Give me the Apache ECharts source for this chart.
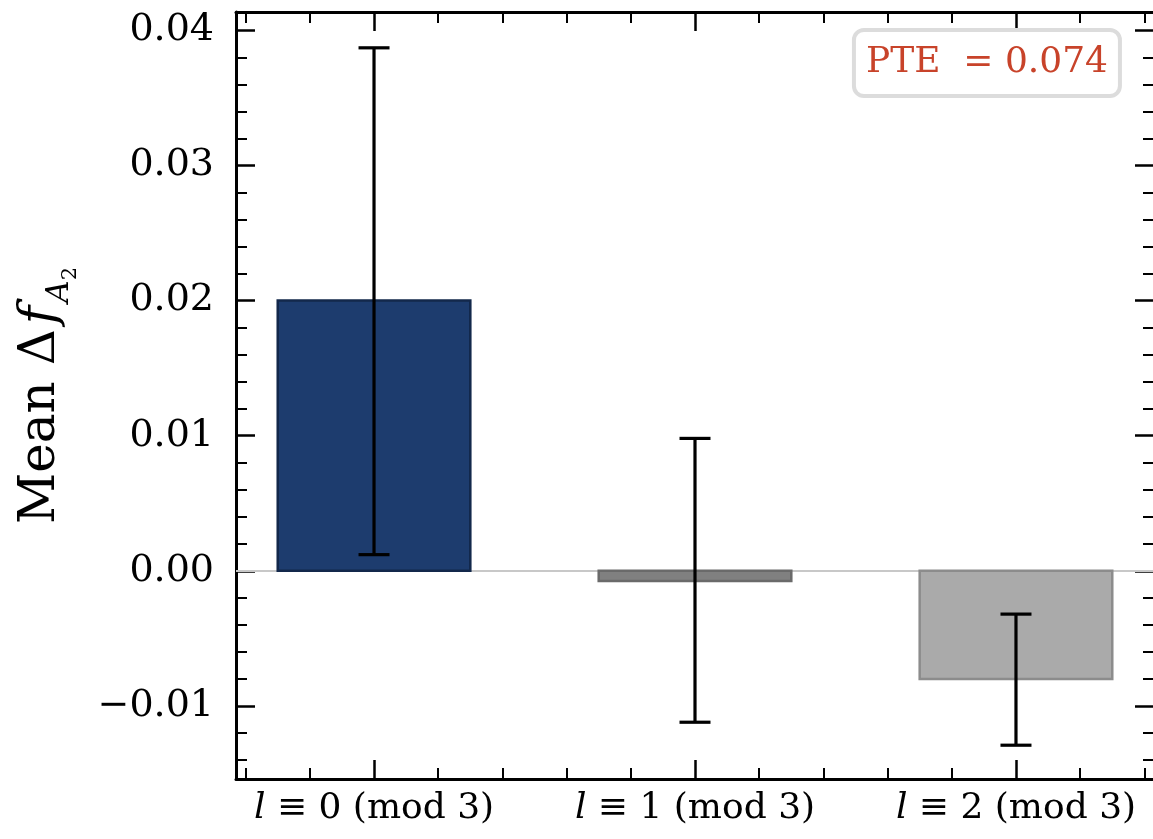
<!DOCTYPE html>
<html>
<head>
<meta charset="utf-8">
<script src="https://cdn.jsdelivr.net/npm/echarts@6/dist/echarts.min.js"></script>
<style>html,body{margin:0;padding:0;background:#fff}#c{width:1153px;height:839px}</style>
</head>
<body>
<div id="c"></div>
<script>
// ---- data ----
var categories = ['0', '1', '2'];
var positions = [0, 1, 2];
var means = [0.0200, -0.00075, -0.0080];
var errLow = [0.0188, 0.01045, 0.0049];
var errHigh = [0.0187, 0.01055, 0.0048];
var yMajorTicks = [-0.01, 0.00, 0.01, 0.02, 0.03, 0.04];
var yMinorTicks = [-0.014, -0.012, -0.008, -0.006, -0.004, -0.002, 0.002, 0.004, 0.006, 0.008,
  0.012, 0.014, 0.016, 0.018, 0.022, 0.024, 0.026, 0.028, 0.032, 0.034, 0.036, 0.038];
var xMajorTicks = [0, 1, 2];
var xMinorTicks = [-0.4, -0.2, 0.2, 0.4, 0.6, 0.8, 1.2, 1.4, 1.6, 1.8, 2.2, 2.4];
var pteText = 'PTE  = 0.074';

// ---- styles ----
var barColors = ['#1d3c6e', '#808080', '#aaaaaa'];
var barEdges = ['#13284b', '#6a6a6a', '#8c8c8c'];
var BAR_W = 0.6;
var X_MIN = -0.43, X_MAX = 2.43;
var Y_MIN = -0.01540, Y_MAX = 0.04135;
var serif = '"DejaVu Serif", "Liberation Serif", serif';

function fmtY(v) {
  var s = Math.abs(v).toFixed(2);
  return (v < -1e-9 ? '\u2212' : '') + s;
}

function mkY(pos, ticks, len, w, showLine, withLabel) {
  var a = {
    type: 'value', position: pos, min: Y_MIN, max: Y_MAX,
    splitLine: { show: false },
    axisLine: { show: showLine, onZero: false, lineStyle: { color: '#000', width: 3 } },
    axisTick: { show: true, inside: true, length: len, customValues: ticks, lineStyle: { color: '#000', width: w } },
    axisLabel: { show: false }
  };
  if (withLabel) {
    a.axisLabel = {
      show: true, customValues: ticks, formatter: fmtY, margin: 22,
      fontFamily: serif, fontSize: 38, color: '#000'
    };
    a.name = '{n|Mean \u0394}{f|f}{a|A}{s|2}';
    a.nameLocation = 'middle';
    a.nameGap = 170;
    a.nameRotate = 90;
    a.nameTextStyle = {
      fontFamily: serif, fontSize: 50,
      rich: {
        n: { fontFamily: serif, fontSize: 50, color: '#000', lineHeight: 62, verticalAlign: 'bottom' },
        f: { fontFamily: serif, fontStyle: 'italic', fontSize: 50, color: '#000', lineHeight: 62, verticalAlign: 'bottom', padding: [0, 3, 0, 5] },
        a: { fontFamily: serif, fontStyle: 'italic', fontSize: 31, color: '#000', lineHeight: 62, verticalAlign: 'bottom', padding: [0, 0, -9, 0] },
        s: { fontFamily: serif, fontSize: 21, color: '#000', lineHeight: 62, verticalAlign: 'bottom', padding: [0, 0, -15, 0] }
      }
    };
  }
  return a;
}

function mkX(pos, ticks, len, w, showLine, withLabel) {
  var a = {
    type: 'value', position: pos, min: X_MIN, max: X_MAX,
    splitLine: { show: false },
    axisLine: { show: showLine, onZero: false, lineStyle: { color: '#000', width: 3 } },
    axisTick: { show: true, inside: true, length: len, customValues: ticks, lineStyle: { color: '#000', width: w } },
    axisLabel: { show: false }
  };
  if (withLabel) {
    a.axisLabel = {
      show: true, customValues: ticks, margin: 12,
      formatter: function (v) {
        var i = positions.indexOf(Math.round(v));
        return '{i|l}{t| \u2261 ' + categories[i] + ' (mod 3)}';
      },
      rich: {
        i: { fontFamily: serif, fontStyle: 'italic', fontSize: 36, color: '#000' },
        t: { fontFamily: serif, fontSize: 36, color: '#000' }
      }
    };
  }
  return a;
}

var barData = positions.map(function (p, i) { return [p, means[i], i]; });
var errData = positions.map(function (p, i) { return [p, means[i] - errLow[i], means[i] + errHigh[i]]; });

var chart = echarts.init(document.getElementById('c'), null, { renderer: 'canvas' });
chart.setOption({
  backgroundColor: '#fff',
  animation: false,
  grid: { left: 236, top: 12, width: 918, height: 767, containLabel: false, outerBoundsMode: 'none' },
  title: {
    text: pteText,
    right: 33, top: 30,
    padding: [11, 12, 11, 12],
    backgroundColor: '#fff',
    borderColor: '#dcdcdc', borderWidth: 4, borderRadius: 10,
    textStyle: { fontFamily: serif, fontWeight: 'normal', fontSize: 36, color: '#c8432a', lineHeight: 44 }
  },
  xAxis: [
    mkX('bottom', xMajorTicks, 19, 2.5, true, true),
    mkX('bottom', xMinorTicks, 11, 2, false, false),
    mkX('top', xMajorTicks, 19, 2.5, true, false),
    mkX('top', xMinorTicks, 11, 2, false, false)
  ],
  yAxis: [
    mkY('left', yMajorTicks, 19, 2.5, true, true),
    mkY('left', yMinorTicks, 11, 2, false, false),
    mkY('right', yMajorTicks, 19, 2.5, true, false),
    mkY('right', yMinorTicks, 11, 2, false, false)
  ],
  series: [
    {
      type: 'custom', xAxisIndex: 0, yAxisIndex: 0, z: 2,
      data: barData,
      renderItem: function (params, api) {
        var x = api.value(0), y = api.value(1), idx = api.value(2);
        var p0 = api.coord([x - BAR_W / 2, 0]);
        var p1 = api.coord([x + BAR_W / 2, y]);
        return {
          type: 'rect',
          shape: { x: p0[0], y: Math.min(p0[1], p1[1]), width: p1[0] - p0[0], height: Math.abs(p1[1] - p0[1]) },
          style: { fill: barColors[idx], stroke: barEdges[idx], lineWidth: 2.5 }
        };
      },
      markLine: {
        silent: true, symbol: 'none', z: 1,
        label: { show: false },
        lineStyle: { color: '#c8c8c8', width: 1.8, type: 'solid' },
        data: [{ yAxis: 0 }]
      }
    },
    {
      type: 'custom', xAxisIndex: 0, yAxisIndex: 0, z: 3,
      data: errData,
      renderItem: function (params, api) {
        var x = api.value(0);
        var lo = api.coord([x, api.value(1)]);
        var hi = api.coord([x, api.value(2)]);
        var cap = 15.5;
        var ls = { stroke: '#000', lineWidth: 3.2 };
        return {
          type: 'group',
          children: [
            { type: 'line', shape: { x1: lo[0], y1: lo[1], x2: hi[0], y2: hi[1] }, style: ls },
            { type: 'line', shape: { x1: lo[0] - cap, y1: lo[1], x2: lo[0] + cap, y2: lo[1] }, style: ls },
            { type: 'line', shape: { x1: hi[0] - cap, y1: hi[1], x2: hi[0] + cap, y2: hi[1] }, style: ls }
          ]
        };
      }
    }
  ]
});
</script>
</body>
</html>
